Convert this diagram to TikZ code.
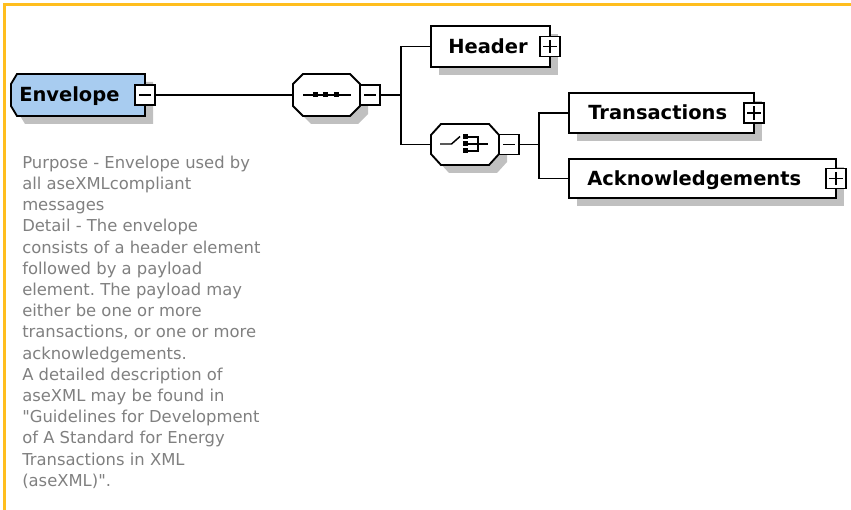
\documentclass[tikz,border=0pt]{standalone}
\usepackage{fontspec}
\setmainfont{DejaVu Sans}
\newfontfamily\descfont{DejaVu Sans}[Ligatures=TeXOff]
\frenchspacing
\usetikzlibrary{shadows,calc}
\definecolor{framecol}{RGB}{255,190,30}
\definecolor{envblue}{RGB}{168,204,240}
\definecolor{shadowgray}{RGB}{192,192,192}
\definecolor{desccol}{RGB}{128,128,128}
\tikzset{
  ln/.style={line width=1.4pt, draw=black},
  elem/.style={ln, fill=white, inner sep=0pt,
    drop shadow={shadow xshift=6pt, shadow yshift=-6pt, opacity=1, fill=shadowgray}},
  hold/.style={inner sep=0pt},
  shadowfill/.style={fill=shadowgray, draw=none},
  pmbox/.style={ln, fill=white, minimum size=15pt, inner sep=0pt},
  pmminus/.style={pmbox, path picture={
    \draw[line width=1.1pt] ([xshift=3pt]path picture bounding box.west) -- ([xshift=-3pt]path picture bounding box.east);}},
  pmplus/.style={pmbox, path picture={
    \draw[line width=1.1pt] ([xshift=2.5pt]path picture bounding box.west) -- ([xshift=-2.5pt]path picture bounding box.east);
    \draw[line width=1.1pt] ([yshift=-2.5pt]path picture bounding box.north) -- ([yshift=2.5pt]path picture bounding box.south);}},
  lbl/.style={anchor=base west, inner sep=0pt, font=\fontsize{14.6pt}{16pt}\selectfont\bfseries},
  conn/.style={ln},
}
\begin{document}
\begin{tikzpicture}[x=0.75pt, y=-0.75pt]
\useasboundingbox (0,0) rectangle (851,510);
% frame
\draw[framecol, line width=2pt] (4.5,510) -- (4.5,4.5) -- (851,4.5);

% Envelope element (chamfered left)
\node[hold, minimum width=100.5pt, minimum height=31.5pt] (env) at (78,95) {};
\path[shadowfill, xshift=6pt, yshift=-6pt] (17,74) -- (145,74) -- (145,116) -- (17,116) -- (11,106) -- (11,84) -- cycle;
\filldraw[ln, fill=envblue] (17,74) -- (145,74) -- (145,116) -- (17,116) -- (11,106) -- (11,84) -- cycle;
\node[lbl] (envt) at (19,102) {Envelope};
\node[pmminus] (envm) at (145,95) {};

% sequence compositor
\node[hold, minimum width=50.25pt, minimum height=31.5pt] (seq) at (326.5,95) {};
\path[shadowfill, xshift=6pt, yshift=-6pt] (303,74) -- (350,74) -- (360,84) -- (360,106) -- (350,116) -- (303,116) -- (293,106) -- (293,84) -- cycle;
\filldraw[ln, fill=white] (303,74) -- (350,74) -- (360,84) -- (360,106) -- (350,116) -- (303,116) -- (293,106) -- (293,84) -- cycle;
\draw[line width=1.1pt] (303,95) -- (351,95);
\foreach \xx in {315,325.5,336} {\fill (\xx-2.5,92.5) rectangle (\xx+2.5,97.5);}
\node[pmminus] (seqm) at (370,95) {};

% choice compositor
\node[hold, minimum width=51pt, minimum height=30.75pt] (choice) at (465,144.5) {};
\path[shadowfill, xshift=6pt, yshift=-6pt] (441,124) -- (489,124) -- (499,135) -- (499,154) -- (489,165) -- (441,165) -- (431,154) -- (431,135) -- cycle;
\filldraw[ln, fill=white] (441,124) -- (489,124) -- (499,135) -- (499,154) -- (489,165) -- (441,165) -- (431,154) -- (431,135) -- cycle;
\draw[line width=1.1pt] (440,144) -- (451.5,144) -- (460,136.5);
\foreach \yy in {137,144,151} {\fill (462.5,\yy-2.5) rectangle (467.5,\yy+2.5);}
\draw[line width=1.1pt] (467.5,137) -- (478,137) -- (478,151) -- (467.5,151);
\draw[line width=1.1pt] (467.5,144) -- (488,144);
\node[pmminus] (chm) at (509,144.5) {};

% child elements
\node[elem, minimum width=89.25pt, minimum height=30.75pt] (header) at (490.5,46.5) {};
\node[lbl] (headert) at (448,53.5) {Header};
\node[pmplus] (headp) at (550,46.5) {};

\node[elem, minimum width=138.75pt, minimum height=30pt] (trans) at (661.5,113) {};
\node[lbl] (transt) at (588,120) {Transactions};
\node[pmplus] (transp) at (754,113) {};

\node[elem, minimum width=200.25pt, minimum height=29.25pt] (ack) at (702.5,178.5) {};
\node[lbl] (ackt) at (587,185.5) {Acknowledgements};
\node[pmplus] (ackp) at (836,178.5) {};

% connectors
\coordinate (j1) at (401,95);
\coordinate (j2) at (539,144.5);
\draw[conn] (envm.east) -- (seq.west);
\draw[conn] (seqm.east) -- (j1);
\draw[conn] (header.west) -| (j1);
\draw[conn] (choice.west) -| (j1);
\draw[conn] (chm.east) -- (j2);
\draw[conn] (trans.west) -| (j2);
\draw[conn] (ack.west) -| (j2);

% description
\node[anchor=north west, inner sep=0pt, align=left, text=desccol,
      font=\descfont\fontsize{12.3pt}{15.9pt}\selectfont] (desc) at (22,155.5)
{Purpose - Envelope used by\\
all aseXMLcompliant\\
messages\\
Detail - The envelope\\
consists of a header element\\
followed by a payload\\
element. The payload may\\
either be one or more\\
transactions, or one or more\\
acknowledgements.\\
A detailed description of\\
aseXML may be found in\\
"Guidelines for Development\\
of A Standard for Energy\\
Transactions in XML\\
(aseXML)".};
\end{tikzpicture}
\end{document}
